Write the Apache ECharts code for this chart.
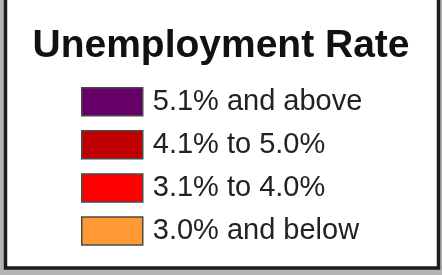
<!DOCTYPE html>
<html>
<head>
<meta charset="utf-8">
<script src="https://cdn.jsdelivr.net/npm/echarts@6/dist/echarts.min.js"></script>
<style>
  html, body { margin: 0; padding: 0; background: #b4b4b4; }
  #main { width: 442px; height: 275px; }
</style>
</head>
<body>
<div id="main"></div>
<script>
const titleText = "Unemployment Rate";
const categories = ["5.1% and above", "4.1% to 5.0%", "3.1% to 4.0%", "3.0% and below"];
const colors = ["#660066", "#c00000", "#ff0000", "#ff9933"];

const chartDom = document.querySelector("#main");
const myChart = echarts.init(chartDom);

const option = {
    backgroundColor: "#b4b4b4",
    animation: false,
    title: {
        text: titleText,
        left: "center",
        top: 27,
        padding: 0,
        textStyle: { fontFamily: "Liberation Sans", fontWeight: "bold", fontSize: 39, color: "#111" }
    },
    // frame of the box
    graphic: [{
        type: "rect",
        z: -10,
        shape: { x: 5.5, y: -4, width: 433, height: 272 },
        style: { fill: "#fff", stroke: "#1c1c1c", lineWidth: 3.5 }
    }],
    legend: {
        orient: "vertical",
        left: 81,
        top: 87,
        padding: 0,
        icon: "rect",
        itemWidth: 61,
        itemHeight: 28,
        itemGap: 13.6,
        selectedMode: false,
        itemStyle: { borderColor: "#4a4a4a", borderWidth: 1.5 },
        textStyle: { fontFamily: "Liberation Sans", fontSize: 29, lineHeight: 29, color: "#222", padding: [0, 0, 0, 5] },
        data: categories
    },
    grid: { show: false },
    xAxis: { show: false, type: "category", data: [] },
    yAxis: { show: false, type: "value" },
    series: categories.map((name, i) => ({
        name: name,
        type: "bar",
        data: [],
        itemStyle: { color: colors[i] }
    }))
};
myChart.setOption(option);
</script>
</body>
</html>
